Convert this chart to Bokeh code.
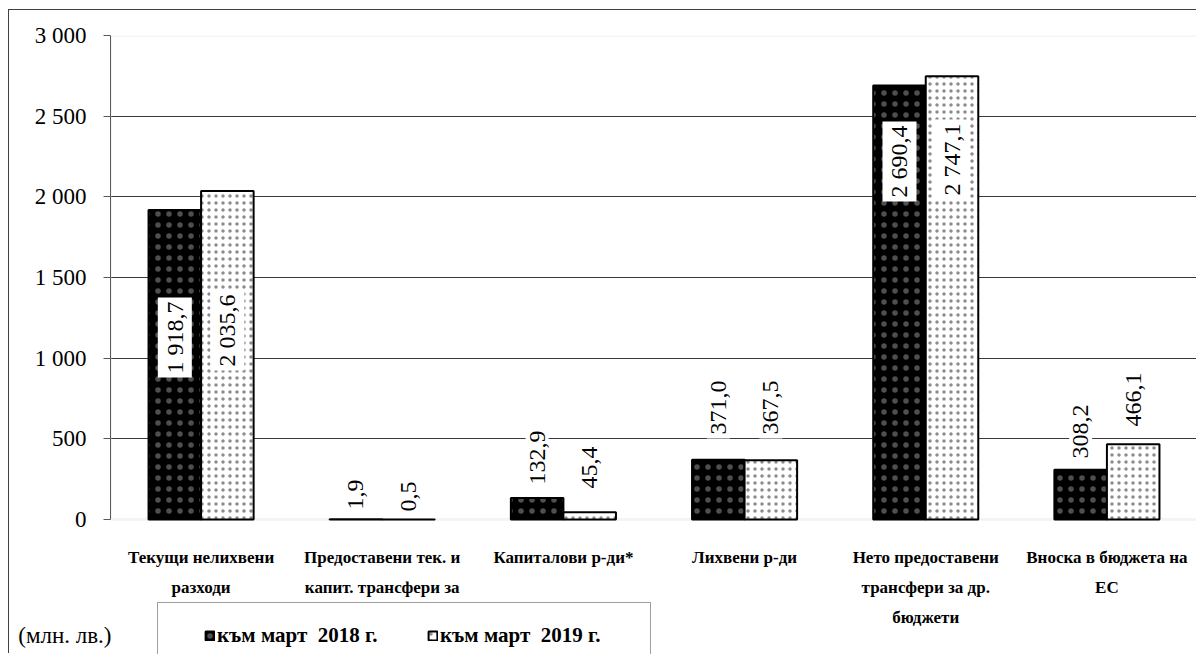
import math
from bokeh.plotting import figure
from bokeh.models import (ColumnDataSource, FactorRange, Range1d, FixedTicker,
                          Legend, LegendItem, LinearAxis, BoxAnnotation)
from bokeh.transform import dodge
from bokeh.core.properties import value
from bokeh.embed import file_html
from bokeh.resources import INLINE

# ---------------- data ----------------
categories = [
    "Текущи нелихвени\nразходи",
    "Предоставени тек. и\nкапит. трансфери за",
    "Капиталови р-ди*",
    "Лихвени р-ди",
    "Нето предоставени\nтрансфери за др.\nбюджети",
    "Вноска в бюджета на\nЕС",
]
series_names = ["към март  2018 г.", "към март  2019 г."]
values_2018 = [1918.7, 1.9, 132.9, 371.0, 2690.4, 308.2]
values_2019 = [2035.6, 0.5, 45.4, 367.5, 2747.1, 466.1]
y_ticks = [0, 500, 1000, 1500, 2000, 2500, 3000]
y_tick_labels = ["0", "500", "1 000", "1 500", "2 000", "2 500", "3 000"]
unit_label = "(млн. лв.)"

# label anchor heights (centre of each rotated data label, in axis units)
label_at_2018 = [1128, 155, 384, 694, 2219, 545]
label_at_2019 = [1171, 143, 322, 694, 2231, 744]


def fmt(v):
    return f"{v:,.1f}".replace(",", " ").replace(".", ",")


# ---------------- geometry (pixels) ----------------
W, H = 1188, 644
BORDER_L, BORDER_T = 101, 25
PLOT_H = 484                        # pixel height of 0..3000
Y_MAX = 3000
FRAME_H = H - BORDER_T
px = PLOT_H / Y_MAX                 # pixels per unit
y_lo = -(FRAME_H - PLOT_H) / px     # frame continues below zero for labels/legend
cat_label_y = -28 / px              # category labels start 28px under the axis
unit_y = round(-116 / px)           # unit note sits 116px under the axis

SERIF = "'Liberation Serif', 'Times New Roman', serif"

source = ColumnDataSource(dict(
    cat=categories,
    v18=values_2018, v19=values_2019,
    l18=[fmt(v) for v in values_2018], l19=[fmt(v) for v in values_2019],
    p18=label_at_2018, p19=label_at_2019,
))

p = figure(x_range=FactorRange(*categories, range_padding=0),
           y_range=Range1d(y_lo, Y_MAX),
           width=W, height=H,
           x_axis_location=None,
           min_border_left=BORDER_L, min_border_right=0,
           min_border_top=BORDER_T, min_border_bottom=0,
           output_backend="svg", toolbar_location=None)

p.styles = {"margin-left": "8px", "margin-top": "9px",
            "border-left": "1px solid #404040", "border-top": "1px solid #404040"}
p.outline_line_color = None
p.background_fill_color = "white"
p.border_fill_color = "white"

# plot-area border (light grey)
p.add_layout(BoxAnnotation(bottom=0, top=Y_MAX, fill_color=None,
                           line_color="#d9d9d9", line_width=3, level="underlay"))

# grid
p.xgrid.grid_line_color = None
p.ygrid.ticker = FixedTicker(ticks=y_ticks[1:-1])
p.ygrid.grid_line_color = "#3a3a3a"
p.ygrid.grid_line_width = 1

# y axis
p.yaxis.ticker = FixedTicker(ticks=y_ticks)
p.yaxis.bounds = (0, Y_MAX)
p.yaxis.major_label_overrides = {t: s for t, s in zip(y_ticks, y_tick_labels)}
p.yaxis.axis_line_color = "#595959"
p.yaxis.major_tick_line_color = "#595959"
p.yaxis.major_tick_out = 7
p.yaxis.major_tick_in = 0
p.yaxis.minor_tick_line_color = None
p.yaxis.major_label_standoff = 17
p.yaxis.major_label_text_font = SERIF
p.yaxis.major_label_text_font_size = "23px"
p.yaxis.major_label_text_color = "black"

# unit note carried by a bare second axis (single tick label)
unit_axis = LinearAxis(ticker=FixedTicker(ticks=[unit_y]),
                       major_label_overrides={unit_y: unit_label},
                       axis_line_color=None, major_tick_line_color=None,
                       minor_tick_line_color=None,
                       major_tick_out=0, major_tick_in=0,
                       major_label_standoff=-80,
                       major_label_text_font=SERIF,
                       major_label_text_font_size="23px",
                       major_label_text_color="black")
p.add_layout(unit_axis, "left")

# category labels
p.text(x="cat", y=cat_label_y, text="cat", source=source,
       text_align="center", text_baseline="top",
       text_font=value(SERIF), text_font_style="bold",
       text_font_size="17px", text_color="black", text_line_height=1.58)

# bars
w = 0.29
r1 = p.vbar(x=dodge("cat", -w / 2, range=p.x_range), top="v18", width=w, source=source,
            fill_color="black", line_color="black", line_width=2,
            hatch_pattern=".", hatch_color="#b0b0b0", hatch_alpha=0.45,
            hatch_scale=11)
r2 = p.vbar(x=dodge("cat", w / 2, range=p.x_range), top="v19", width=w, source=source,
            fill_color="white", line_color="black", line_width=2,
            hatch_pattern=".", hatch_color="#8c8c8c", hatch_scale=7)

# data labels
for xoff, ycol, tcol in [(-w / 2, "p18", "l18"), (w / 2, "p19", "l19")]:
    p.text(x=dodge("cat", xoff, range=p.x_range), y=ycol, text=tcol, source=source,
           angle=math.pi / 2, text_align="center", text_baseline="middle",
           text_font=value(SERIF), text_font_size="24px", text_color="black",
           background_fill_color="white", padding=4)

# legend
legend = Legend(items=[LegendItem(label=series_names[0], renderers=[r1]),
                       LegendItem(label=series_names[1], renderers=[r2])],
                orientation="horizontal", location=(47, -15),
                title="\u00a0", title_location="left", title_standoff=20,
                title_text_font_size="6px",
                border_line_color="#404040", border_line_width=1,
                background_fill_color="white", background_fill_alpha=1,
                label_text_font=SERIF, label_text_font_style="bold",
                label_text_font_size="21px", label_text_color="black",
                glyph_width=11, glyph_height=11, label_standoff=2,
                label_width=190, spacing=20, padding=20, label_height=20)
p.add_layout(legend)

open("out.html", "w").write(file_html(p, INLINE))
